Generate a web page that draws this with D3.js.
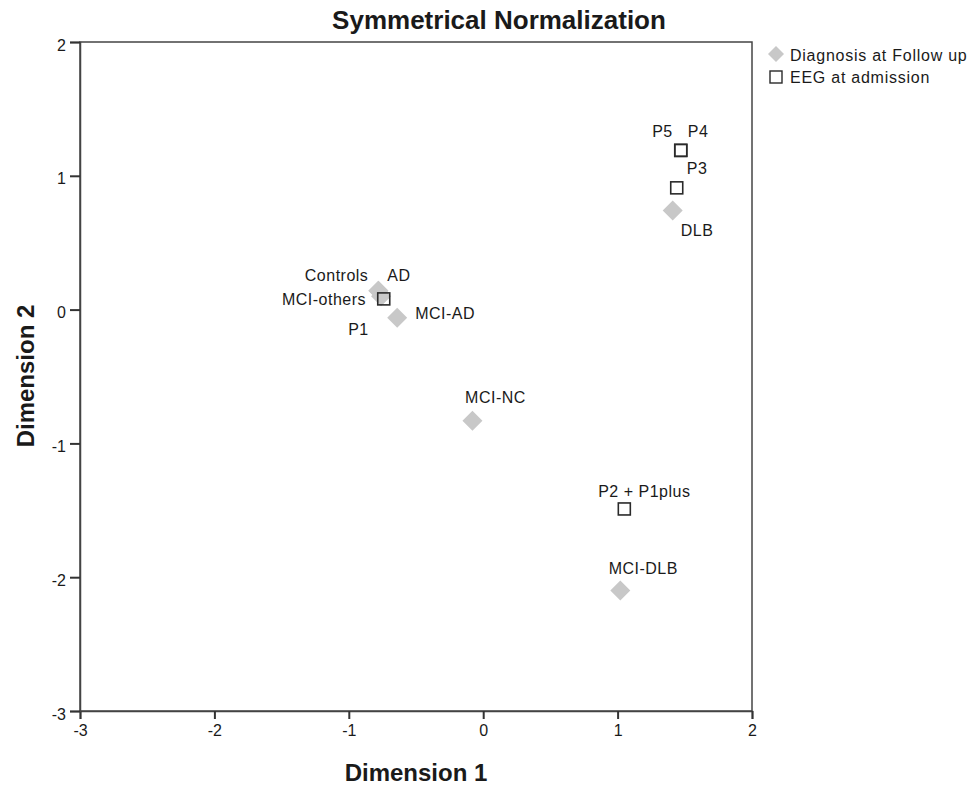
<!DOCTYPE html>
<html>
<head>
<meta charset="utf-8">
<script src="https://cdn.jsdelivr.net/npm/d3@7"></script>
<style>
  body { margin: 0; background: #fff; }
  text { font-family: "Liberation Sans", Arial, sans-serif; fill: #1a1a1a; }
</style>
</head>
<body>
<div id="chart"></div>
<script>
// Diagnosis at follow up (diamonds)
const diagNames = ["Controls", "AD", "MCI-others", "MCI-AD", "MCI-NC", "MCI-DLB", "DLB"];
const diagX = [-0.78, -0.78, -0.76, -0.64, -0.08, 1.02, 1.41];
const diagY = [0.14, 0.14, 0.10, -0.06, -0.83, -2.10, 0.74];

// EEG at admission (squares)
const eegNames = ["P1", "P2 + P1plus", "P3", "P4", "P5"];
const eegX = [-0.74, 1.05, 1.44, 1.47, 1.47];
const eegY = [0.08, -1.49, 0.91, 1.19, 1.19];

const xTicks = [-3, -2, -1, 0, 1, 2];
const yTicks = [-3, -2, -1, 0, 1, 2];

// label placement around each marker: [dx, dy, anchor]
const labelPos = {
  "Controls": [-10, -10, "end"], "AD": [9, -10, "start"], "MCI-others": [-15, 9, "end"],
  "MCI-AD": [18, 1, "start"], "MCI-NC": [23, -18, "middle"], "MCI-DLB": [23, -17, "middle"],
  "DLB": [8, 25, "start"], "P1": [-15, 36, "end"], "P2 + P1plus": [20, -12, "middle"],
  "P3": [10, -14, "start"], "P4": [7, -13, "start"], "P5": [-8, -13, "end"]
};

const width = 971, height = 786;
const margin = { left: 80, right: 219, top: 42, bottom: 75 };

const svg = d3.select("#chart").append("svg")
  .attr("width", width)
  .attr("height", height);

const x = d3.scaleLinear().domain([-3, 2]).range([margin.left, width - margin.right]);
const y = d3.scaleLinear().domain([-3, 2]).range([height - margin.bottom, margin.top]);

// frame
svg.append("rect")
  .attr("x", x(-3)).attr("y", y(2))
  .attr("width", x(2) - x(-3)).attr("height", y(-3) - y(2))
  .attr("fill", "none").attr("stroke", "#444").attr("stroke-width", 1.5);

// axes (hyphen minus, like the original)
const fmt = d => String(d);
const xAxis = svg.append("g")
  .attr("transform", `translate(0,${y(-3)})`)
  .call(d3.axisBottom(x).tickValues(xTicks).tickSize(8).tickPadding(6).tickFormat(fmt));
const yAxis = svg.append("g")
  .attr("transform", `translate(${x(-3)},0)`)
  .call(d3.axisLeft(y).tickValues(yTicks).tickSize(10).tickPadding(4).tickFormat(fmt));
[xAxis, yAxis].forEach(g => {
  g.select(".domain").attr("stroke", "#444").attr("stroke-width", 1.5);
  g.selectAll(".tick line").attr("stroke", "#333").attr("stroke-width", 2);
  g.selectAll(".tick text").style("font-size", "16px").attr("fill", "#1a1a1a")
    .style("font-family", "Liberation Sans, Arial, sans-serif");
});
yAxis.selectAll(".tick text").attr("dy", "0.5em");

// title and axis titles
svg.append("text").attr("x", 499).attr("y", 29).attr("text-anchor", "middle")
  .style("font-size", "26px").style("font-weight", "bold").text("Symmetrical Normalization");
svg.append("text").attr("x", 416).attr("y", 781).attr("text-anchor", "middle")
  .style("font-size", "24px").style("font-weight", "bold").text("Dimension 1");
svg.append("text").attr("transform", "translate(34,376) rotate(-90)").attr("text-anchor", "middle")
  .style("font-size", "24px").style("font-weight", "bold").text("Dimension 2");

const diag = diagNames.map((n, i) => ({ name: n, x: diagX[i], y: diagY[i] }));
const eeg = eegNames.map((n, i) => ({ name: n, x: eegX[i], y: eegY[i] }));

const diamond = "M0,-10L10,0L0,10L-10,0Z";

svg.append("g").selectAll("path").data(diag).join("path")
  .attr("d", diamond)
  .attr("transform", d => `translate(${x(d.x)},${y(d.y)})`)
  .attr("fill", "#c8c8c8");

svg.append("g").selectAll("rect").data(eeg).join("rect")
  .attr("x", d => x(d.x) - 6).attr("y", d => y(d.y) - 6)
  .attr("width", 12).attr("height", 12)
  .attr("fill", "none").attr("stroke", "#2a2a2a").attr("stroke-width", 1.6);

// labels
svg.append("g").selectAll("text").data(diag.concat(eeg)).join("text")
  .attr("x", d => x(d.x) + labelPos[d.name][0])
  .attr("y", d => y(d.y) + labelPos[d.name][1])
  .attr("text-anchor", d => labelPos[d.name][2])
  .style("font-size", "16px").style("letter-spacing", "0.5px")
  .text(d => d.name);

// legend
const lg = svg.append("g").attr("transform", "translate(776,0)");
lg.append("path").attr("d", "M0,-8L8,0L0,8L-8,0Z").attr("transform", "translate(0,54)").attr("fill", "#c8c8c8");
lg.append("text").attr("x", 14).attr("y", 61).style("font-size", "16px").style("letter-spacing", "0.75px")
  .text("Diagnosis at Follow up");
lg.append("rect").attr("x", -6).attr("y", 71).attr("width", 12).attr("height", 12)
  .attr("fill", "none").attr("stroke", "#2a2a2a").attr("stroke-width", 1.4);
lg.append("text").attr("x", 14).attr("y", 83).style("font-size", "16px").style("letter-spacing", "0.75px")
  .text("EEG at admission");
</script>
</body>
</html>
